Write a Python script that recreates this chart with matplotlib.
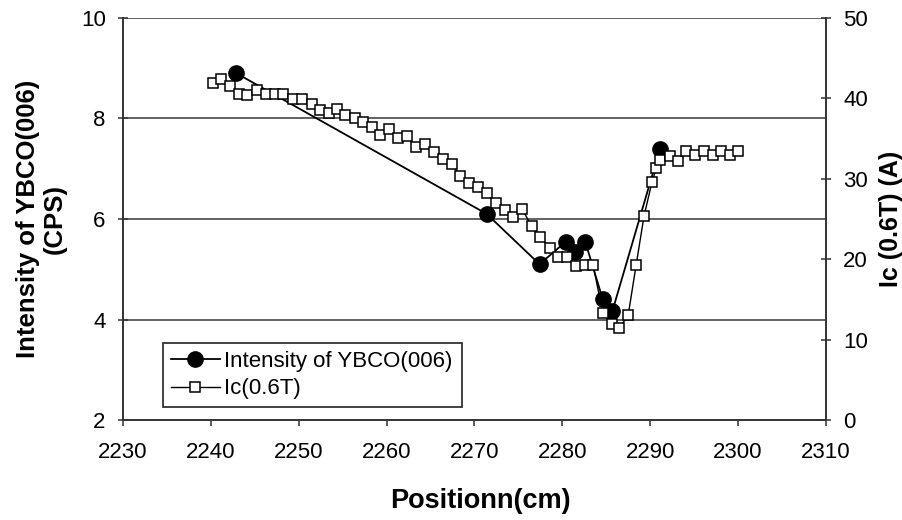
import matplotlib
matplotlib.use("Agg")
import matplotlib.pyplot as plt
from matplotlib.lines import Line2D

plt.rcParams['font.family'] = ['Liberation Sans', 'DejaVu Sans']

# XRD intensity of the (006) peak along the tape
pos_int = [2242.9, 2271.4, 2277.4, 2280.4, 2281.4, 2282.6, 2284.6, 2285.7, 2291.1]
intensity = [8.90, 6.10, 5.10, 5.55, 5.35, 5.55, 4.40, 4.17, 7.39]

# critical current at 0.6 T along the tape
pos_ic = [2240.2, 2241.2, 2242.2, 2243.2, 2244.1, 2245.2, 2246.3, 2247.3, 2248.2, 2249.3,
          2250.4, 2251.5, 2252.4, 2253.4, 2254.3, 2255.3, 2256.4, 2257.3, 2258.3, 2259.3,
          2260.3, 2261.3, 2262.3, 2263.3, 2264.4, 2265.4, 2266.4, 2267.4, 2268.4, 2269.4,
          2270.4, 2271.4, 2272.4, 2273.5, 2274.4, 2275.4, 2276.5, 2277.4, 2278.6, 2279.5,
          2280.5, 2281.5, 2282.6, 2283.5, 2284.6, 2285.6, 2286.5, 2287.5, 2288.4, 2289.3,
          2290.2, 2290.7, 2291.1, 2292.2, 2293.2, 2294.1, 2295.1, 2296.1, 2297.1, 2298.1,
          2299.1, 2300.0]
ic = [41.9, 42.4, 41.5, 40.6, 40.4, 41.0, 40.6, 40.6, 40.5, 39.9,
      39.9, 39.3, 38.5, 38.2, 38.7, 37.9, 37.6, 37.1, 36.5, 35.4,
      36.2, 35.1, 35.3, 34.0, 34.3, 33.3, 32.5, 31.8, 30.4, 29.5,
      29.0, 28.2, 27.0, 26.1, 25.3, 26.3, 24.1, 22.8, 21.4, 20.3,
      20.3, 19.2, 19.3, 19.3, 13.3, 12.0, 11.4, 13.1, 19.3, 25.4,
      29.6, 31.3, 32.3, 32.8, 32.2, 33.4, 33.0, 33.4, 33.0, 33.4,
      33.0, 33.4]

x_ticks = [2230, 2240, 2250, 2260, 2270, 2280, 2290, 2300, 2310]
left_ticks = [2, 4, 6, 8, 10]
right_ticks = [0, 10, 20, 30, 40, 50]

fig = plt.figure(figsize=(9.03, 5.2), dpi=100)
ax = fig.add_axes([0.1362, 0.1923, 0.7785, 0.7731])
ax2 = ax.twinx()

axis_col = '#333333'
grid_col = '#555555'

ax.plot(pos_int, intensity, color='black', lw=1.3, marker='o', ms=11,
        mfc='black', mec='black', zorder=3)
ax2.plot(pos_ic, ic, color='black', lw=1.0, marker='s', ms=6.5,
         mfc='white', mec='black', mew=1.1, zorder=3)

ax.set_xlim(2230, 2310)
ax.set_ylim(2, 10)
ax2.set_ylim(0, 50)
ax.set_xticks(x_ticks)
ax.set_yticks(left_ticks)
ax2.set_yticks(right_ticks)

for v in left_ticks[1:]:
    ax.axhline(v, color=grid_col, lw=1.3, zorder=0)

for a in (ax, ax2):
    for s in a.spines.values():
        s.set_visible(False)
ax.spines['left'].set_visible(True)
ax.spines['bottom'].set_visible(True)
ax2.spines['right'].set_visible(True)
for s in (ax.spines['left'], ax.spines['bottom'], ax2.spines['right']):
    s.set_color(axis_col)
    s.set_linewidth(1.4)

ax.tick_params(axis='y', direction='inout', length=7, width=1.1, color=axis_col,
               labelsize=16, pad=9)
ax.tick_params(axis='x', direction='out', length=4, width=1.1, color=axis_col,
               labelsize=16, pad=12)
ax2.tick_params(axis='y', direction='inout', length=7, width=1.1, color=axis_col,
                labelsize=16, pad=9)

ax.set_xlabel('Positionn(cm)', fontsize=19.5, fontweight='bold')
ax.xaxis.set_label_coords(0.508, -0.17)
ax.set_ylabel('Intensity of YBCO(006)\n(CPS)', fontsize=18.5, fontweight='bold',
              linespacing=1.15)
ax.yaxis.set_label_coords(-0.08, 0.5)
ax2.set_ylabel('Ic (0.6T) (A)', fontsize=18, fontweight='bold')
ax2.yaxis.set_label_coords(1.076, 0.5)

handles = [
    Line2D([], [], color='black', lw=1.3, marker='o', ms=11, mfc='black', mec='black'),
    Line2D([], [], color='black', lw=1.0, marker='s', ms=6.5, mfc='white', mec='black', mew=1.1),
]
leg = ax2.legend(handles, ['Intensity of YBCO(006)', 'Ic(0.6T)'],
                 loc='lower left', bbox_to_anchor=(0.057, 0.032, 0.425, 0.187),
                 mode='expand', fontsize=16, fancybox=False, framealpha=1,
                 edgecolor=axis_col, borderaxespad=0, handlelength=2.2,
                 handletextpad=0.2, labelspacing=0.3, borderpad=0.35)
leg.get_frame().set_linewidth(1.3)

fig.savefig('out.png', dpi=100)
